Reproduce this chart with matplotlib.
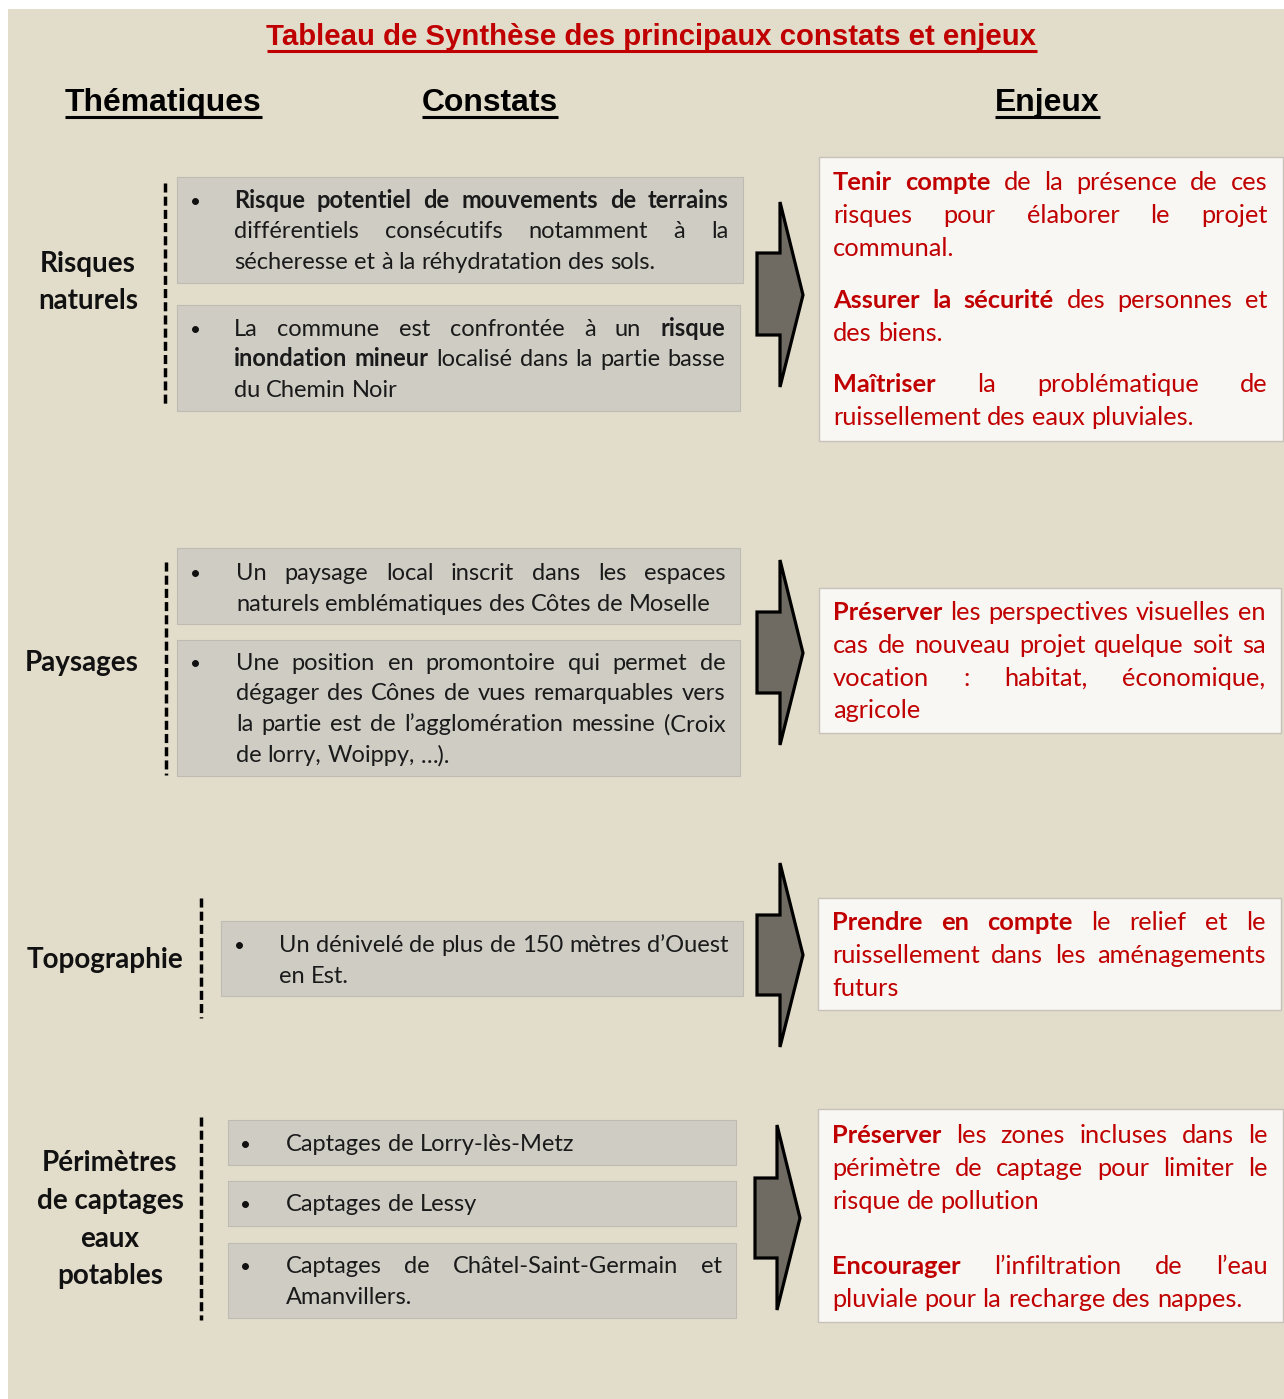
import matplotlib
matplotlib.use('Agg')
import matplotlib.pyplot as plt
from matplotlib.patches import Rectangle, Polygon

# textes du tableau
titre = "Tableau de Synthèse des principaux constats et enjeux"
entetes = ["Thématiques", "Constats", "Enjeux"]

thematiques = [
    ["Risques", "naturels"],
    ["Paysages"],
    ["Topographie"],
    ["Périmètres", "de captages", "eaux", "potables"],
]

# constats : une liste de cases par thématique, chaque case = un paragraphe (liste de lignes)
constats = [
    [
        ["**Risque potentiel de mouvements de terrains**",
         "différentiels consécutifs notamment à la",
         "sécheresse et à la réhydratation des sols."],
        ["La commune est confrontée à un **risque**",
         "**inondation mineur** localisé dans la partie basse",
         "du Chemin Noir"],
    ],
    [
        ["Un paysage local inscrit dans les espaces",
         "naturels emblématiques des Côtes de Moselle"],
        ["Une position en promontoire qui permet de",
         "dégager des Cônes de vues remarquables vers",
         "la partie est de l’agglomération messine (Croix",
         "de lorry, Woippy, …)."],
    ],
    [
        ["Un dénivelé de plus de 150 mètres d’Ouest",
         "en Est."],
    ],
    [
        ["Captages de Lorry-lès-Metz"],
        ["Captages de Lessy"],
        ["Captages de Châtel-Saint-Germain et",
         "Amanvillers."],
    ],
]

# enjeux : une liste de paragraphes par thématique
enjeux = [
    [
        ["**Tenir compte** de la présence de ces",
         "risques pour élaborer le projet",
         "communal."],
        ["**Assurer la sécurité** des personnes et",
         "des biens."],
        ["**Maîtriser** la problématique de",
         "ruissellement des eaux pluviales."],
    ],
    [
        ["**Préserver**  les perspectives visuelles en",
         "cas de nouveau projet quelque soit sa",
         "vocation : habitat, économique,",
         "agricole"],
    ],
    [
        ["**Prendre en compte** le relief et le",
         "ruissellement dans les aménagements",
         "futurs"],
    ],
    [
        ["**Préserver** les zones incluses dans le",
         "périmètre de captage pour limiter le",
         "risque de pollution"],
        ["**Encourager** l’infiltration de l’eau",
         "pluviale pour la recharge des nappes."],
    ],
]

# mise en page (pixels)
theme_x = [88, 82, 105, 110]
theme_y = [[262, 299], [661], [958], [1161, 1199, 1237, 1274]]

pointilles = [(165, 183, 405), (166, 562, 775), (201, 898, 1018), (201, 1117, 1320)]

cases_constats = [
    [(177, 177, 743, 283), (177, 305, 740, 411)],
    [(177, 548, 740, 624), (177, 640, 740, 776)],
    [(221, 921, 743, 996)],
    [(228, 1120, 736, 1165), (228, 1181, 736, 1226), (228, 1243, 736, 1318)],
]
puce_x = [195, 196, 240, 246]
texte_x = [234, 236, 279, 286]
lignes_constats_y = [
    [[200, 230, 261], [328, 358, 389]],
    [[572, 603], [662, 692, 723, 754]],
    [[944, 975]],
    [[1143], [1203], [1265, 1296]],
]

cases_enjeux = [(819, 157, 1283, 441), (819, 588, 1281, 733), (818, 898, 1281, 1010), (818, 1109, 1283, 1322)]
lignes_enjeux_y = [
    [181, 214, 247, 299, 332, 383, 416],
    [611, 644, 677, 709],
    [921, 954, 987],
    [1134, 1167, 1200, 1265, 1298],
]

fleches = [
    (757, 780, 803, 202, 253, 295, 335, 387),
    (757, 780, 803, 560, 612, 653, 693, 745),
    (757, 780, 803, 863, 915, 955, 995, 1047),
    (755, 777, 800, 1125, 1178, 1218, 1258, 1310),
]

FOND = '#E2DCCB'
GRIS = '#CFCCC4'
BLANC = '#F9F7F4'
ROUGE = '#C00000'
CORPS = ['Lato', 'DejaVu Sans']
TITRES = ['Liberation Sans Narrow', 'Liberation Sans', 'DejaVu Sans']

fig = plt.figure(figsize=(12.84, 13.99), dpi=100)
fig.patch.set_facecolor('white')
ax = fig.add_axes([0, 0, 1, 1])
ax.set_xlim(0, 1284)
ax.set_ylim(1399, 0)
ax.axis('off')
renderer = fig.canvas.get_renderer()


def largeur(texte, size, weight='normal', family=CORPS):
    t = ax.text(0, 0, texte, fontsize=size, fontweight=weight, family=family)
    w = t.get_window_extent(renderer).width
    t.remove()
    return w


def taille_pour(texte, cible, weight='normal', family=CORPS):
    return 10 * cible / largeur(texte, 10, weight, family)


def mots(ligne):
    res = []
    for i, morceau in enumerate(ligne.split('**')):
        for m in morceau.split():
            res.append((m, i % 2 == 1))
    return res


def ecrire_ligne(ligne, x0, x1, y, size, color, justifier):
    liste = mots(ligne)
    larg = [largeur(m, size, 'bold' if g else 'normal') for m, g in liste]
    esp = largeur('a a', size) - largeur('aa', size)
    if justifier and len(liste) > 1:
        esp = (x1 - x0 - sum(larg)) / (len(liste) - 1)
    x = x0
    for (m, g), w in zip(liste, larg):
        ax.text(x, y, m, fontsize=size, fontweight='bold' if g else 'normal',
                family=CORPS, color=color, ha='left', va='baseline')
        x += w + esp


def ecrire_paragraphes(paras, x0, x1, ys, size, color):
    k = 0
    for para in paras:
        for i, ligne in enumerate(para):
            ecrire_ligne(ligne, x0, x1, ys[k] + 0.35 * size * 100 / 72, size, color, i < len(para) - 1)
            k += 1


# tailles de police calées sur la largeur des lignes du modèle
t_constat = taille_pour("sécheresse et à la réhydratation des sols.", 422)
t_enjeu = taille_pour("ruissellement des eaux pluviales.", 362)
t_theme = taille_pour("Topographie", 157, 'bold')
t_titre = taille_pour(titre, 771, 'bold', TITRES)
t_entete = taille_pour("Thématiques", 197, 'bold', TITRES)

# fond beige
ax.add_patch(Rectangle((8, 9), 1284 - 8, 1399 - 9, facecolor=FOND, edgecolor='none', zorder=0))

# titre souligné
ax.text(651.5, 45, titre, fontsize=t_titre, fontweight='bold', family=TITRES,
        color=ROUGE, ha='center', va='baseline')
w = largeur(titre, t_titre, 'bold', TITRES)
ax.plot([651.5 - w / 2, 651.5 + w / 2], [50.5, 50.5], color=ROUGE, lw=2.2, solid_capstyle='butt')

for texte, x in zip(entetes, [65, 422, 995]):
    ax.text(x, 111, texte, fontsize=t_entete, fontweight='bold', family=TITRES,
            color='black', ha='left', va='baseline')
    w = largeur(texte, t_entete, 'bold', TITRES)
    ax.plot([x, x + w], [117, 117], color='black', lw=2.2, solid_capstyle='butt')

for g in range(4):
    # thématique
    for ligne, y in zip(thematiques[g], theme_y[g]):
        ax.text(theme_x[g], y + 0.35 * t_theme * 100 / 72, ligne, fontsize=t_theme, fontweight='bold',
                family=CORPS, color='#111111', ha='center', va='baseline')
    x, ya, yb = pointilles[g]
    ax.plot([x, x], [ya, yb], color='black', lw=2.5, dashes=(2.6, 1.2), solid_capstyle='butt')

    # constats
    for c, (x0, y0, x1, y1) in enumerate(cases_constats[g]):
        ax.add_patch(Rectangle((x0, y0), x1 - x0, y1 - y0, facecolor=GRIS, edgecolor='#BEBBB3', lw=0.8))
        ys = lignes_constats_y[g][c]
        ax.text(puce_x[g], ys[0] + 0.35 * t_constat * 100 / 72, '•', fontsize=t_constat * 0.8,
                family=CORPS, color='#111111', ha='center', va='baseline')
        ecrire_paragraphes([constats[g][c]], texte_x[g], x1 - 14.5, ys, t_constat, '#1A1A1A')

    # flèche
    x0, xh, xt, yt, ys1, ytip, ys2, yb = fleches[g]
    ax.add_patch(Polygon([(x0, ys1), (xh, ys1), (xh, yt), (xt, ytip), (xh, yb), (xh, ys2), (x0, ys2)],
                         closed=True, facecolor='#6F6B62', edgecolor='black', lw=2.3, joinstyle='miter'))

    # enjeux
    x0, y0, x1, y1 = cases_enjeux[g]
    ax.add_patch(Rectangle((x0, y0), x1 - x0, y1 - y0, facecolor=BLANC, edgecolor='#C6C2B9', lw=1.0))
    ecrire_paragraphes(enjeux[g], x0 + 14, x1 - 15.5, lignes_enjeux_y[g], t_enjeu, ROUGE)

fig.savefig('out.png', dpi=100, facecolor='white')
